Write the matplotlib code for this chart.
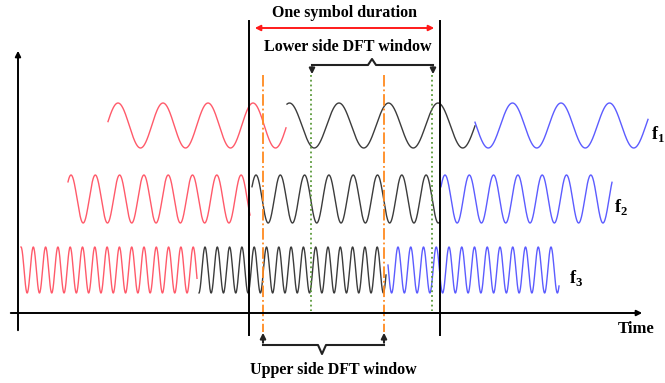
import numpy as np
import matplotlib
matplotlib.use('Agg')
import matplotlib.pyplot as plt

plt.rcParams['font.family'] = ['Liberation Serif', 'DejaVu Serif']
plt.rcParams['mathtext.fontset'] = 'custom'
plt.rcParams['mathtext.bf'] = 'Liberation Serif:bold'
plt.rcParams['mathtext.rm'] = 'Liberation Serif'

# --- data (time axis in drawing units, amplitude axis downward) ---
carriers = ['1', '2', '3']
centers = [125.5, 199, 270]
amps = [22.5, 24, 23]
seg_colors = ['#ff5a6a', '#3c3c3c', '#5c5cff']  # previous / current / next symbol
seg_starts = [[108, 287, 475], [68, 252, 441], [21, 199, 388]]
seg_ends = [[286, 475, 648], [250, 439, 612], [197, 386, 559]]
seg_peaks = [[118, 339, 561], [95.3, 256, 445], [21, 205, 398]]
seg_periods = [[45, 49.5, 48.5], [24.3, 24.3, 24.3], [12.3, 12.3, 12.75]]
label_x = [651, 614, 569]

symbol_bounds = [249, 440]
upper_window = [263, 384]
lower_window = [312, 433]

fig = plt.figure(figsize=(6.65, 3.83), dpi=100)
ax = fig.add_axes([0, 0, 1, 1])
ax.set_xlim(0, 665)
ax.set_ylim(383, 0)
ax.axis('off')

# waveforms
for i in range(len(carriers)):
    for j in range(3):
        t = np.linspace(seg_starts[i][j], seg_ends[i][j], 600)
        y = centers[i] - amps[i] * np.cos(2 * np.pi * (t - seg_peaks[i][j]) / seg_periods[i][j])
        ax.plot(t, y, color=seg_colors[j], lw=1.0)
    ax.text(label_x[i], centers[i] + 8, r'$\mathbf{f}_{\mathbf{' + carriers[i] + '}}$',
            fontsize=13, va='center', ha='left')

# axes arrows
ax.annotate('', xy=(18, 48), xytext=(18, 333),
            arrowprops=dict(arrowstyle='-|>', color='black', lw=1.4, mutation_scale=8))
ax.annotate('', xy=(645, 313), xytext=(8, 313),
            arrowprops=dict(arrowstyle='-|>', color='black', lw=1.4, mutation_scale=8))
ax.text(636, 329, 'Time', fontsize=12, fontweight='bold', ha='center', va='center')

# symbol boundaries
for xb in symbol_bounds:
    ax.plot([xb, xb], [21, 335], color='black', lw=1.4)
ax.annotate('', xy=(symbol_bounds[0] + 3, 28), xytext=(symbol_bounds[1] - 3, 28),
            arrowprops=dict(arrowstyle='<|-|>', color='#ff1a1a', lw=1.4, mutation_scale=8))
ax.text(344, 13, 'One symbol duration', fontsize=11.5, fontweight='bold', ha='center', va='center')

# DFT window markers
for xw in upper_window:
    ax.plot([xw, xw], [75, 332], color='#ff8a20', lw=1.3, ls='-.')
for xw in lower_window:
    ax.plot([xw - 1, xw - 1], [75, 311], color='#5a9a3a', lw=1.3, ls=':')

# lower brace
lc = 372
ax.plot([lower_window[0], lc - 4, lc, lc + 4, lower_window[1]], [65, 65, 59, 65, 65],
        color='#222222', lw=1.5)
for xw in lower_window:
    ax.annotate('', xy=(xw, 77), xytext=(xw, 64.5),
                arrowprops=dict(arrowstyle='-|>', color='#222222', lw=1.5, mutation_scale=8))
ax.text(348, 47, 'Lower side DFT window', fontsize=11.5, fontweight='bold', ha='center', va='center')

# upper brace
uc = 322
ax.plot([upper_window[0], uc - 4, uc, uc + 4, upper_window[1]], [345, 345, 354, 345, 345],
        color='#222222', lw=1.5)
for xw in upper_window:
    ax.annotate('', xy=(xw, 330), xytext=(xw, 345.5),
                arrowprops=dict(arrowstyle='-|>', color='#222222', lw=1.5, mutation_scale=8))
ax.text(333, 370, 'Upper side DFT window', fontsize=11.5, fontweight='bold', ha='center', va='center')

plt.savefig('out.png', dpi=100)
plt.close()
